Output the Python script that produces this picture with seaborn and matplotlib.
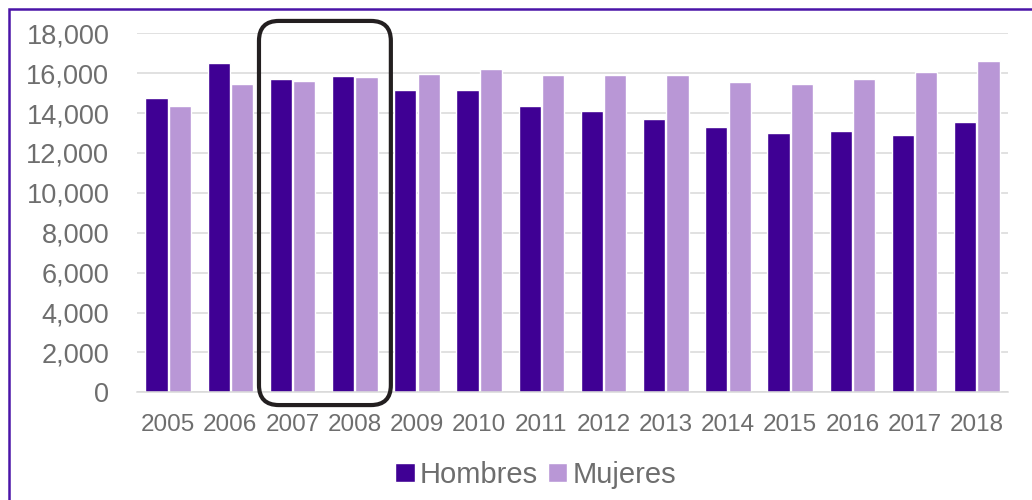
import numpy as np
import pandas as pd
import seaborn as sns
import matplotlib.pyplot as plt
from matplotlib.patches import FancyBboxPatch, Rectangle
from matplotlib.ticker import FuncFormatter

years = [str(y) for y in range(2005, 2019)]
hombres = [14760, 16520, 15710, 15860, 15160, 15160, 14360,
           14110, 13700, 13300, 13000, 13100, 12900, 13560]
mujeres = [14360, 15460, 15610, 15810, 15960, 16210, 15910,
           15910, 15910, 15560, 15460, 15710, 16060, 16620]

df = pd.DataFrame({
    "year": years * 2,
    "value": hombres + mujeres,
    "sexo": ["Hombres"] * len(years) + ["Mujeres"] * len(years),
})

sns.set_style("white")
plt.rcParams["font.family"] = ["Liberation Sans", "DejaVu Sans"]

text_color = "#6e6e6e"
fig = plt.figure(figsize=(10.32, 5.0), dpi=100)
ax = fig.add_axes([0.1328, 0.2154, 0.8439, 0.718])

sns.barplot(
    data=df, x="year", y="value", hue="sexo",
    palette={"Hombres": "#3f0094", "Mujeres": "#b997d6"},
    width=0.75, gap=0.05, saturation=1, ax=ax, errorbar=None,
)

ax.set_xlim(-0.5, len(years) - 0.5)
ax.set_ylim(0, 18000)
ax.set_yticks(np.arange(0, 18001, 2000))
ax.yaxis.set_major_formatter(FuncFormatter(lambda v, p: f"{int(v):,}"))
ax.set_xlabel("")
ax.set_ylabel("")
ax.grid(axis="y", color="#d9d9d9", linewidth=1.1)
ax.set_axisbelow(True)
for s in ["top", "right", "left"]:
    ax.spines[s].set_visible(False)
ax.spines["bottom"].set_color("#d9d9d9")
ax.spines["bottom"].set_linewidth(1.1)
ax.tick_params(axis="y", length=0, pad=20, labelsize=19.5, labelcolor=text_color)
ax.tick_params(axis="x", length=0, pad=15.5, labelsize=17.5, labelcolor=text_color)

# legend
handles, labels = ax.get_legend_handles_labels()
ax.get_legend().remove()
fig.legend(handles, labels, loc="center", bbox_to_anchor=(0.519, 0.05),
           ncol=2, frameon=False, fontsize=21, labelcolor=text_color,
           handlelength=0.68, handleheight=0.6, handletextpad=0.17,
           columnspacing=0.32, borderaxespad=0)

# rounded highlight box around 2007-2008
box = FancyBboxPatch((1.46, -640), 2.12, 19260,
                     boxstyle="round,pad=0,rounding_size=0.32",
                     mutation_aspect=3119, fill=False, edgecolor="#231f20",
                     linewidth=3.0, clip_on=False, zorder=5)
ax.add_patch(box)

# purple frame (top and left edges visible)
frame = Rectangle((9 / 1032, -0.1), 1.2, 1 - 8.5 / 500 + 0.1,
                  transform=fig.transFigure, fill=False,
                  edgecolor="#4a14a8", linewidth=1.8, clip_on=False)
fig.patches.append(frame)

fig.savefig("out.png", dpi=100)
